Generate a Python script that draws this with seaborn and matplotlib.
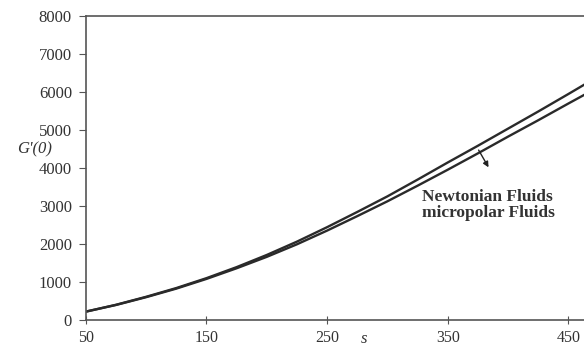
import numpy as np
import pandas as pd
import seaborn as sns
import matplotlib.pyplot as plt

# values
s_vals = [50, 75, 100, 125, 150, 175, 200, 225, 250, 275, 300, 325, 350, 375, 400, 425, 450, 465]
newtonian = [230, 410, 620, 850, 1110, 1400, 1720, 2070, 2450, 2850, 3260, 3700, 4150, 4590, 5040, 5490, 5950, 6230]
micropolar = [230, 405, 610, 835, 1090, 1370, 1670, 2000, 2360, 2740, 3130, 3540, 3960, 4390, 4830, 5260, 5700, 5960]
y_ticks = [0, 1000, 2000, 3000, 4000, 5000, 6000, 7000, 8000]
x_ticks = [50, 150, 250, 350, 450]

df = pd.DataFrame({
    's': s_vals * 2,
    'G': newtonian + micropolar,
    'fluid': ['Newtonian Fluids'] * len(s_vals) + ['micropolar Fluids'] * len(s_vals),
})

sns.set_style('white')
plt.rcParams['font.family'] = ['Liberation Serif', 'DejaVu Serif']

fig = plt.figure(figsize=(5.84, 3.49), dpi=100)
ax = fig.add_axes([0.147, 0.082, 0.853, 0.872])

sns.lineplot(data=df, x='s', y='G', hue='fluid', palette=['#2a2a2a', '#2a2a2a'],
             linewidth=1.7, legend=False, ax=ax)

ax.set_xlim(50, 463)
ax.set_ylim(0, 8000)
ax.set_xticks(x_ticks)
ax.set_yticks(y_ticks)
ax.set_xlabel('')
ax.set_ylabel('')

for side in ['left', 'bottom', 'top']:
    ax.spines[side].set_color('#555555')
    ax.spines[side].set_linewidth(1.2)
ax.spines['right'].set_visible(False)

ax.tick_params(axis='y', direction='out', length=5, color='#555555',
               labelsize=12, labelcolor='#333333', pad=5)
ax.tick_params(axis='x', direction='inout', length=6, color='#555555',
               labelsize=11.5, labelcolor='#333333', pad=4)
ax.tick_params(left=True, bottom=True)

ax.text(-0.138, 0.561, "G'(0)", transform=ax.transAxes, fontsize=12,
        style='italic', color='#333333', ha='left', va='center')
ax.text(281, -0.062, 's', transform=ax.get_xaxis_transform(), fontsize=12,
        style='italic', color='#333333', ha='center', va='center')

ax.text(329, 3250, 'Newtonian Fluids', fontsize=12.5, fontweight='bold',
        color='#333333', ha='left', va='center')
ax.text(329, 2830, 'micropolar Fluids', fontsize=12.5, fontweight='bold',
        color='#333333', ha='left', va='center')
ax.annotate('', xy=(385, 3960), xytext=(374.5, 4540),
            arrowprops=dict(arrowstyle='-|>', color='#222222', lw=1.0,
                            mutation_scale=8))

fig.savefig('out.png', dpi=100)
